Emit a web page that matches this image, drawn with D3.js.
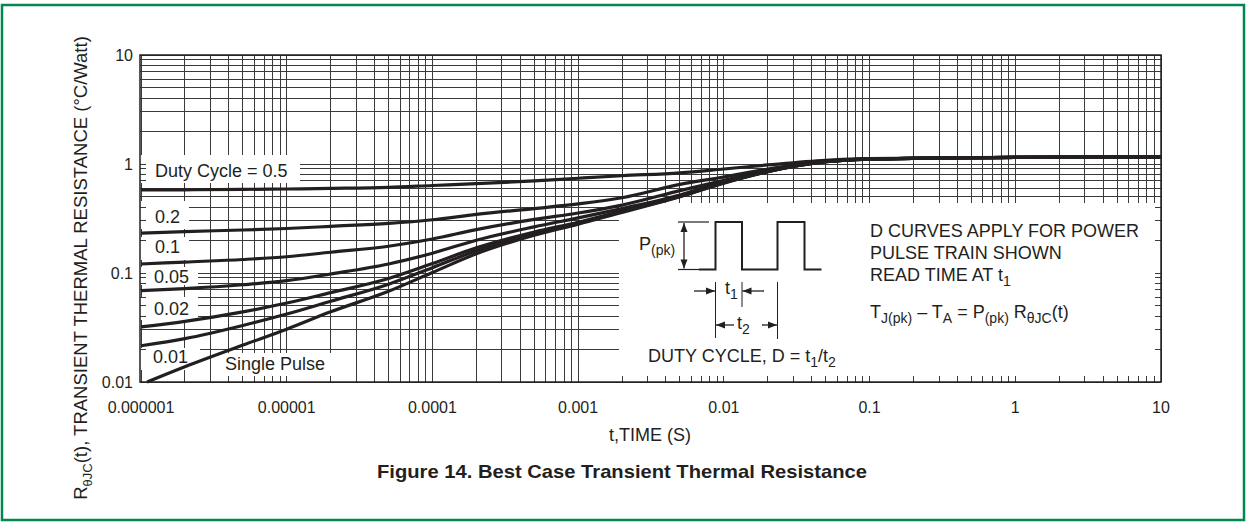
<!DOCTYPE html>
<html>
<head>
<meta charset="utf-8">
<script src="https://cdn.jsdelivr.net/npm/d3@7"></script>
<style>
  body { margin: 0; background: #fff; }
  svg { display: block; }
  text { font-family: "Liberation Sans", Arial, sans-serif; fill: #231f20; }
</style>
</head>
<body>
<div id="chart"></div>
<script>
var W = 1247, H = 523;

// time points (s)
var times = [1e-6, 2e-6, 5e-6, 1e-5, 2e-5, 5e-5, 1e-4, 2e-4, 5e-4, 1e-3, 2e-3, 5e-3, 1e-2, 2e-2, 5e-2, 1e-1, 1, 10];
var singleTimes = [1.1e-6, 2e-6, 5e-6, 1e-5, 2e-5, 5e-5, 1e-4, 2e-4, 5e-4, 1e-3, 2e-3, 5e-3, 1e-2, 2e-2, 5e-2, 1e-1, 1, 10];

// R(t) values (°C/W) for each duty cycle
var duty05 = [0.58, 0.58, 0.585, 0.59, 0.597, 0.61, 0.635, 0.66, 0.70, 0.74, 0.78, 0.83, 0.90, 0.98, 1.08, 1.12, 1.15, 1.16];
var duty02 = [0.232, 0.24, 0.248, 0.256, 0.268, 0.285, 0.308, 0.345, 0.39, 0.43, 0.49, 0.65, 0.76, 0.90, 1.06, 1.11, 1.15, 1.16];
var duty01 = [0.121, 0.126, 0.133, 0.141, 0.155, 0.176, 0.205, 0.25, 0.31, 0.355, 0.42, 0.57, 0.71, 0.87, 1.055, 1.11, 1.15, 1.16];
var duty005 = [0.069, 0.072, 0.078, 0.085, 0.098, 0.121, 0.152, 0.20, 0.265, 0.32, 0.39, 0.52, 0.69, 0.86, 1.05, 1.11, 1.15, 1.16];
var duty002 = [0.032, 0.036, 0.044, 0.053, 0.066, 0.089, 0.122, 0.17, 0.238, 0.292, 0.37, 0.51, 0.675, 0.855, 1.05, 1.11, 1.15, 1.16];
var duty001 = [0.0215, 0.025, 0.033, 0.042, 0.055, 0.079, 0.112, 0.16, 0.23, 0.287, 0.365, 0.505, 0.672, 0.852, 1.05, 1.11, 1.15, 1.16];
var single = [0.01, 0.0138, 0.0218, 0.0305, 0.044, 0.068, 0.101, 0.15, 0.222, 0.28, 0.36, 0.50, 0.668, 0.85, 1.05, 1.11, 1.15, 1.16];

var xTickValues = [1e-6, 1e-5, 1e-4, 1e-3, 1e-2, 1e-1, 1, 10];
var xTickLabels = ["0.000001", "0.00001", "0.0001", "0.001", "0.01", "0.1", "1", "10"];
var yTickValues = [0.01, 0.1, 1, 10];
var yTickLabels = ["0.01", "0.1", "1", "10"];

var plotLeft = 141, plotRight = 1161, plotTop = 55, plotBottom = 382;
var ink = "#231f20";

var x = d3.scaleLog().domain([1e-6, 10]).range([plotLeft, plotRight]);
var y = d3.scaleLog().domain([0.01, 10]).range([plotBottom, plotTop]);

var svg = d3.select("#chart").append("svg")
    .attr("width", W)
    .attr("height", H);

// green frame round the figure
svg.append("rect")
    .attr("x", 2).attr("y", 5)
    .attr("width", 1242).attr("height", 515)
    .attr("fill", "none")
    .attr("stroke", "#00884f")
    .attr("stroke-width", 2.5);

// grid
var grid = svg.append("g")
    .attr("stroke", "#3a3a3a")
    .attr("stroke-width", 1)
    .attr("shape-rendering", "crispEdges");

grid.selectAll(".vg")
    .data(x.ticks())
    .enter().append("line")
    .attr("x1", function (d) { return x(d); })
    .attr("x2", function (d) { return x(d); })
    .attr("y1", plotTop).attr("y2", plotBottom);

grid.selectAll(".hg")
    .data(y.ticks())
    .enter().append("line")
    .attr("y1", function (d) { return y(d); })
    .attr("y2", function (d) { return y(d); })
    .attr("x1", plotLeft).attr("x2", plotRight);

// white label boxes covering the grid
var boxes = [
    [140, 155, 300, 183],
    [140, 201, 189, 229],
    [140, 237, 189, 260],
    [140, 267, 198, 285],
    [140, 297, 198, 320],
    [140, 348, 200, 370],
    [214, 353, 352, 382],
    [619, 203, 1161, 382]
];
svg.selectAll(".box")
    .data(boxes)
    .enter().append("rect")
    .attr("x", function (d) { return d[0]; })
    .attr("y", function (d) { return d[1]; })
    .attr("width", function (d) { return d[2] - d[0]; })
    .attr("height", function (d) { return d[3] - d[1]; })
    .attr("fill", "#fff");

// inward ticks on all four sides
var ticks = svg.append("g")
    .attr("stroke", "#3a3a3a")
    .attr("shape-rendering", "crispEdges");
x.ticks().forEach(function (d) {
    ticks.append("line").attr("x1", x(d)).attr("x2", x(d)).attr("y1", plotBottom).attr("y2", plotBottom - 6);
    ticks.append("line").attr("x1", x(d)).attr("x2", x(d)).attr("y1", plotTop).attr("y2", plotTop + 6);
});
y.ticks().forEach(function (d) {
    ticks.append("line").attr("y1", y(d)).attr("y2", y(d)).attr("x1", plotLeft - 1).attr("x2", plotLeft + 5);
    ticks.append("line").attr("y1", y(d)).attr("y2", y(d)).attr("x1", plotRight).attr("x2", plotRight - 6);
});

// plot frame
svg.append("rect")
    .attr("x", plotLeft - 1).attr("y", plotTop)
    .attr("width", plotRight - plotLeft + 1).attr("height", plotBottom - plotTop)
    .attr("fill", "none")
    .attr("stroke", ink)
    .attr("stroke-width", 1.5);

// curves
var line = d3.line()
    .x(function (d) { return x(d[0]); })
    .y(function (d) { return y(d[1]); })
    .curve(d3.curveMonotoneX);

var series = [duty05, duty02, duty01, duty005, duty002, duty001];
series.forEach(function (vals) {
    svg.append("path")
        .datum(times.map(function (t, i) { return [t, vals[i]]; }))
        .attr("d", line)
        .attr("fill", "none")
        .attr("stroke", ink)
        .attr("stroke-width", 3.2);
});
svg.append("path")
    .datum(singleTimes.map(function (t, i) { return [t, single[i]]; }))
    .attr("d", line)
    .attr("fill", "none")
    .attr("stroke", ink)
    .attr("stroke-width", 3.2);

// text helper with subscripts: parts = [[string, isSub], ...]
function rich(sel, parts, subSize) {
    var shifted = false;
    parts.forEach(function (p) {
        var ts = sel.append("tspan").text(p[0]);
        if (p[1] && !shifted) { ts.attr("dy", 5).attr("font-size", subSize); shifted = true; }
        else if (p[1]) { ts.attr("font-size", subSize); }
        else if (shifted) { ts.attr("dy", -5); shifted = false; }
    });
    return sel;
}

// curve labels
var curveLabels = [
    ["Duty Cycle = 0.5", 155, 177],
    ["0.2", 155, 223],
    ["0.1", 155, 253],
    ["0.05", 154, 282.5],
    ["0.02", 154, 315],
    ["0.01", 153, 363],
    ["Single Pulse", 225, 370]
];
svg.selectAll(".clab")
    .data(curveLabels)
    .enter().append("text")
    .attr("x", function (d) { return d[1]; })
    .attr("y", function (d) { return d[2]; })
    .attr("font-size", 18)
    .text(function (d) { return d[0]; });

// axis tick labels
svg.selectAll(".xl")
    .data(xTickValues)
    .enter().append("text")
    .attr("x", function (d) { return x(d); })
    .attr("y", 413)
    .attr("text-anchor", "middle")
    .attr("font-size", 16)
    .text(function (d, i) { return xTickLabels[i]; });

svg.selectAll(".yl")
    .data(yTickValues)
    .enter().append("text")
    .attr("x", 133)
    .attr("y", function (d) { return y(d); })
    .attr("dy", "0.35em")
    .attr("text-anchor", "end")
    .attr("font-size", 16)
    .text(function (d, i) { return yTickLabels[i]; });

// axis titles
svg.append("text")
    .attr("x", 650).attr("y", 441)
    .attr("text-anchor", "middle")
    .attr("font-size", 18)
    .text("t,TIME (S)");

var yt = svg.append("text")
    .attr("transform", "translate(87,268) rotate(-90)")
    .attr("text-anchor", "middle")
    .attr("font-size", 18.5);
rich(yt, [["R", false], ["θJC", true], ["(t), TRANSIENT THERMAL RESISTANCE (°C/Watt)", false]], 13);

// caption
svg.append("text")
    .attr("x", 622).attr("y", 478)
    .attr("text-anchor", "middle")
    .attr("font-size", 19)
    .attr("font-weight", "bold")
    .attr("textLength", 490)
    .attr("lengthAdjust", "spacingAndGlyphs")
    .text("Figure 14. Best Case Transient Thermal Resistance");

// inset: pulse train sketch
var inset = svg.append("g").attr("stroke", ink).attr("fill", "none");
inset.append("path")
    .attr("d", "M699,269.5H715.5V222H742V269.5H777.5V222H804.5V269.5H821.5")
    .attr("stroke-width", 2);

function arrow(g, x1, y1, x2, y2) {
    g.append("line").attr("x1", x1).attr("y1", y1).attr("x2", x2).attr("y2", y2).attr("stroke-width", 1.3);
    var a = Math.atan2(y2 - y1, x2 - x1), L = 9, Wd = 3.5;
    var bx = x2 - L * Math.cos(a), by = y2 - L * Math.sin(a);
    var px = -Math.sin(a) * Wd, py = Math.cos(a) * Wd;
    g.append("path")
        .attr("d", "M" + x2 + "," + y2 + "L" + (bx + px) + "," + (by + py) + "L" + (bx - px) + "," + (by - py) + "Z")
        .attr("fill", ink).attr("stroke", "none");
}

inset.append("line").attr("x1", 678).attr("x2", 709).attr("y1", 222).attr("y2", 222).attr("stroke-width", 1.2);
inset.append("line").attr("x1", 678).attr("x2", 699).attr("y1", 269.5).attr("y2", 269.5).attr("stroke-width", 1.2);
arrow(inset, 684, 246, 684, 223);
arrow(inset, 684, 246, 684, 268.5);

inset.append("line").attr("x1", 715.5).attr("x2", 715.5).attr("y1", 282).attr("y2", 338).attr("stroke-width", 1);
inset.append("line").attr("x1", 742).attr("x2", 742).attr("y1", 282).attr("y2", 307).attr("stroke-width", 1);
inset.append("line").attr("x1", 777.5).attr("x2", 777.5).attr("y1", 282).attr("y2", 339).attr("stroke-width", 1);
arrow(inset, 694, 291, 715, 291);
arrow(inset, 764, 291, 742.5, 291);
arrow(inset, 734, 325, 716, 325);
arrow(inset, 762, 325, 777, 325);

rich(svg.append("text").attr("x", 639).attr("y", 250).attr("font-size", 18), [["P", false], ["(pk)", true]], 14);
rich(svg.append("text").attr("x", 725).attr("y", 294).attr("font-size", 18), [["t", false], ["1", true]], 14);
rich(svg.append("text").attr("x", 737).attr("y", 329).attr("font-size", 18), [["t", false], ["2", true]], 14);
rich(svg.append("text").attr("x", 648).attr("y", 362).attr("font-size", 18),
    [["DUTY CYCLE, D = t", false], ["1", true], ["/t", false], ["2", true]], 14);

// inset notes
svg.append("text").attr("x", 870).attr("y", 237).attr("font-size", 18).text("D CURVES APPLY FOR POWER");
svg.append("text").attr("x", 870).attr("y", 259).attr("font-size", 18).text("PULSE TRAIN SHOWN");
rich(svg.append("text").attr("x", 870).attr("y", 281).attr("font-size", 18), [["READ TIME AT t", false], ["1", true]], 14);
rich(svg.append("text").attr("x", 870).attr("y", 318).attr("font-size", 18),
    [["T", false], ["J(pk)", true], [" \u2013 T", false], ["A", true], [" = P", false], ["(pk)", true], [" R", false], ["θJC", true], ["(t)", false]], 14);
</script>
</body>
</html>
